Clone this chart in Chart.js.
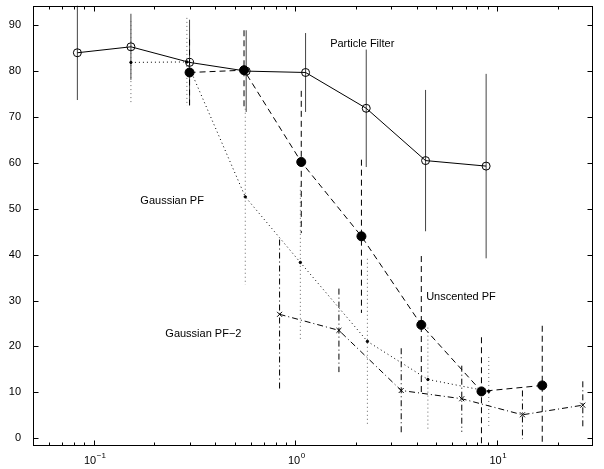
<!DOCTYPE html>
<html>
<head>
<meta charset="utf-8">
<script src="https://cdn.jsdelivr.net/npm/chart.js@4/dist/chart.umd.min.js"></script>
<style>
  html, body { margin: 0; padding: 0; background: #fff; }
  #wrap { width: 604px; height: 469px; }
</style>
</head>
<body>
<div id="wrap"><canvas id="chart" width="604" height="469"></canvas></div>
<script>
// Particle Filter (solid, open circles)
const pfX = [0.083, 0.153, 0.299, 0.571, 1.125, 2.25, 4.43, 8.85]
const pfY = [84.0, 85.3, 81.9, 80.0, 79.7, 71.9, 60.5, 59.3]
const pfErr = [10.3, 7.2, 9.3, 8.9, 8.6, 12.8, 15.4, 20.1]

// Unscented PF (dashed, filled circles)
const ukfX = [0.299, 0.557, 1.071, 2.13, 4.22, 8.39, 16.8]
const ukfY = [79.7, 80.2, 60.2, 44.0, 24.7, 10.2, 11.5]
const ukfErr = [7.2, 8.7, 15.5, 16.7, 15.0, 11.8, 13.0]

// Gaussian PF (dotted, small dots)
const gpfX = [0.153, 0.290, 0.565, 1.06, 2.28, 4.55, 9.12]
const gpfY = [81.9, 82.0, 52.6, 38.3, 21.1, 12.8, 10.2]
const gpfErr = [9.0, 9.6, 19.2, 16.7, 18.0, 11.3, 7.5]

// Gaussian PF-2 (dash-dot, x marks)
const gpf2X = [0.836, 1.647, 3.355, 6.70, 13.4, 26.7]
const gpf2Y = [27.0, 23.5, 10.4, 8.6, 5.1, 7.2]
const gpf2Err = [16.3, 9.1, 9.2, 7.2, 5.3, 5.2]

const yTicks = [0, 10, 20, 30, 40, 50, 60, 70, 80, 90]
const xTicks = [0.1, 1, 10]
const xTickExp = ['\u22121', '0', '1']
const xMinorTicks = [0.06, 0.07, 0.08, 0.09, 0.2, 0.3, 0.4, 0.5, 0.6, 0.7, 0.8, 0.9,
  2, 3, 4, 5, 6, 7, 8, 9, 20]

const FONT = "'Liberation Sans', Arial, Helvetica, sans-serif"

const series = [
  {x: pfX, y: pfY, err: pfErr, dash: [], style: 'circle', radius: 4, fill: 'rgba(0,0,0,0)', bar: '#444'},
  {x: ukfX, y: ukfY, err: ukfErr, dash: [6, 4], style: 'circle', radius: 4.5, fill: '#000', bar: '#000'},
  {x: gpfX, y: gpfY, err: gpfErr, dash: [1, 3], style: 'circle', radius: 1.2, fill: '#000', bar: '#666'},
  {x: gpf2X, y: gpf2Y, err: gpf2Err, dash: [6, 3, 1, 3], style: 'crossRot', radius: 3.5, fill: '#000', bar: '#000'},
]

// text labels placed in data coordinates
const notes = [
  {text: 'Particle Filter', x: 1.49, y: 86.0},
  {text: 'Gaussian PF', x: 0.1704, y: 51.8},
  {text: 'Gaussian PF\u22122', x: 0.2267, y: 22.7},
  {text: 'Unscented PF', x: 4.46, y: 30.8},
]

const decor = {
  id: 'decor',
  beforeDatasetsDraw(chart) {
    const {ctx, chartArea: a, scales: {x, y}} = chart
    ctx.save()
    ctx.beginPath()
    ctx.rect(a.left, a.top, a.right - a.left, a.bottom - a.top)
    ctx.clip()
    ctx.lineWidth = 1
    series.forEach(s => {
      ctx.setLineDash(s.dash)
      ctx.strokeStyle = s.bar
      s.x.forEach((v, i) => {
        const px = x.getPixelForValue(v)
        ctx.beginPath()
        ctx.moveTo(px, y.getPixelForValue(s.y[i] + s.err[i]))
        ctx.lineTo(px, y.getPixelForValue(s.y[i] - s.err[i]))
        ctx.stroke()
      })
    })
    ctx.restore()
  },
  afterDraw(chart) {
    const {ctx, chartArea: a, scales: {x, y}} = chart
    const L = Math.round(a.left) + 0.5, R = Math.round(a.right) - 0.5
    const T = Math.round(a.top) + 0.5, B = Math.round(a.bottom) - 0.5
    ctx.save()
    ctx.strokeStyle = '#000'
    ctx.lineWidth = 1
    ctx.setLineDash([])
    ctx.strokeRect(L, T, R - L, B - T)

    // inward ticks, matlab style
    ctx.beginPath()
    yTicks.forEach(v => {
      const py = Math.round(y.getPixelForValue(v)) + 0.5
      ctx.moveTo(L, py); ctx.lineTo(L + 5, py)
      ctx.moveTo(R, py); ctx.lineTo(R - 5, py)
    })
    xTicks.forEach(v => {
      const px = Math.round(x.getPixelForValue(v)) + 0.5
      ctx.moveTo(px, B); ctx.lineTo(px, B - 5)
      ctx.moveTo(px, T); ctx.lineTo(px, T + 5)
    })
    xMinorTicks.forEach(v => {
      const px = Math.round(x.getPixelForValue(v)) + 0.5
      ctx.moveTo(px, B); ctx.lineTo(px, B - 3)
      ctx.moveTo(px, T); ctx.lineTo(px, T + 3)
    })
    ctx.stroke()

    // x tick labels: 10 with superscript exponent
    ctx.fillStyle = '#000'
    ctx.textBaseline = 'alphabetic'
    ctx.textAlign = 'left'
    xTicks.forEach((v, i) => {
      const px = x.getPixelForValue(v)
      ctx.font = '11px ' + FONT
      const w1 = ctx.measureText('10').width
      ctx.font = '8px ' + FONT
      const w2 = ctx.measureText(xTickExp[i]).width
      const x0 = px - (w1 + w2) / 2 + 1
      ctx.font = '11px ' + FONT
      ctx.fillText('10', x0, 464)
      ctx.font = '8px ' + FONT
      ctx.fillText(xTickExp[i], x0 + w1 + 0.5, 458)
    })

    ctx.font = '11px ' + FONT
    ctx.textBaseline = 'middle'
    notes.forEach(n => {
      ctx.fillText(n.text, x.getPixelForValue(n.x), y.getPixelForValue(n.y))
    })
    ctx.restore()
  }
}

const chart = new Chart('chart', {
  type: 'line',
  data: {
    datasets: series.map(s => ({
      data: s.x.map((v, i) => ({x: v, y: s.y[i]})),
      borderColor: '#000',
      borderWidth: 1,
      borderDash: s.dash,
      pointStyle: s.style,
      pointRadius: s.radius,
      pointBackgroundColor: s.fill,
      pointBorderColor: '#000',
      pointBorderWidth: 1,
      tension: 0,
      fill: false,
    }))
  },
  options: {
    responsive: false,
    animation: false,
    layout: {padding: {top: 5, right: 11, left: 0, bottom: 0}},
    plugins: {
      legend: {display: false},
      tooltip: {enabled: false},
    },
    scales: {
      x: {
        type: 'logarithmic',
        min: 0.05,
        max: 30,
        grid: {display: false},
        border: {display: false},
        ticks: {display: false},
        afterFit: s => { s.height = 23; s.paddingLeft = 0; s.paddingRight = 0 },
      },
      y: {
        min: -1.7,
        max: 94.3,
        grid: {display: false},
        border: {display: false},
        ticks: {color: '#000', padding: 4, font: {family: FONT, size: 11}},
        afterBuildTicks: s => { s.ticks = yTicks.map(v => ({value: v})) },
        afterFit: s => { s.width = 33; s.paddingTop = 0; s.paddingBottom = 0 },
      }
    }
  },
  plugins: [decor]
})
</script>
</body>
</html>
